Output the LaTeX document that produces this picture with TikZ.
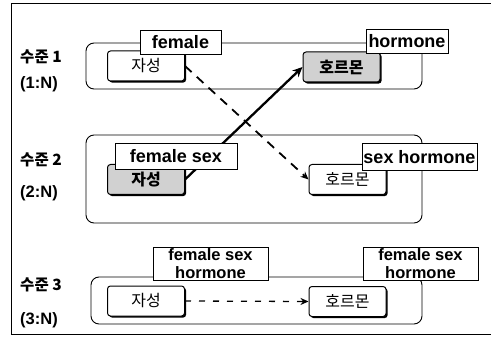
\documentclass[tikz,border=0pt]{standalone}
\usepackage{fontspec}
\setmainfont{Liberation Sans}
\newfontfamily\lab{Liberation Sans}
\newfontfamily\kr{Noto Sans CJK KR}
\usetikzlibrary{arrows.meta,shadows}

\begin{document}
\begin{tikzpicture}[x=1pt,y=-1pt]
\tikzstyle{every node}+=[inner sep=0pt]
\tikzstyle{group}=[draw=black,line width=0.9pt,rounded corners=8pt]
\tikzstyle{term}=[draw=black,fill=white,line width=1pt,rounded corners=3pt,minimum width=77pt,minimum height=30pt,font=\kr\fontsize{16}{16}\selectfont,drop shadow={shadow xshift=1.6pt,shadow yshift=-1.6pt,opacity=1,fill=black}]
\tikzstyle{hiterm}=[term,fill=black!18,font=\kr\bfseries\fontsize{16}{16}\selectfont]
\tikzstyle{tag}=[draw=black,fill=white,line width=0.9pt,align=center,minimum height=24pt,font=\lab\bfseries\fontsize{18}{16}\selectfont,drop shadow={shadow xshift=1pt,shadow yshift=-1pt,opacity=1,fill=black}]
\tikzstyle{tagtwo}=[tag,minimum width=115pt,minimum height=33pt,font=\lab\bfseries\fontsize{16.5}{18}\selectfont]
\tikzstyle{level}=[font=\kr\bfseries\fontsize{15.5}{15}\selectfont]
\tikzstyle{ratio}=[font=\lab\bfseries\fontsize{16.5}{15}\selectfont]
\useasboundingbox (0,0) rectangle (491,337);
% frame
\draw [line width=1pt] (491,4) -- (11,4) -- (11,334) -- (491,334);
% levels
\node [level] (lev1) at (41,57) {수준 1};
\node [ratio] (rat1) at (39,84) {(1:N)};
\node [level] (lev2) at (41,160) {수준 2};
\node [ratio] (rat2) at (39,193) {(2:N)};
\node [level] (lev3) at (41,285) {수준 3};
\node [ratio] (rat3) at (39,320) {(3:N)};
% groups
\draw [group] (86,43) rectangle (422,89);
\draw [group] (86,135) rectangle (422,223);
\draw [group] (91,277) rectangle (422,324);
% terms
\node [term] (jaA) at (146,66) {자성};
\node [hiterm] (hoA) at (341.5,67) {호르몬};
\node [hiterm] (jaB) at (146,179.5) {자성};
\node [term] (hoB) at (347.5,179.5) {호르몬};
\node [term] (jaC) at (146,301) {자성};
\node [term] (hoC) at (347.5,301.5) {호르몬};
% links
\draw [line width=1.8pt,dash pattern=on 9pt off 7pt,-{Stealth[length=8pt,width=7pt]}] (jaA.east) -- (hoB.west);
\draw [line width=2.3pt,-{Stealth[length=10pt,width=9pt]}] (jaB.east) -- (hoA.west);
\draw [line width=1.3pt,dash pattern=on 6pt off 8pt,-{Stealth[length=8pt,width=7pt]}] (jaC.east) -- (hoC.west);
% tags
\node [tag,minimum width=81pt] (tagA) at (180.5,42.5) {female};
\node [tag,minimum width=82pt] (tagB) at (407,41.5) {hormone};
\node [tag,minimum width=122pt,minimum height=26pt] (tagC) at (176,156) {female sex};
\node [tag,minimum width=115pt,minimum height=27pt] (tagD) at (419.5,157) {sex hormone};
\node [tagtwo] (tagE) at (210.5,263.5) {female sex\\hormone};
\node [tagtwo] (tagF) at (420.5,263.5) {female sex\\hormone};
\end{tikzpicture}
\end{document}
